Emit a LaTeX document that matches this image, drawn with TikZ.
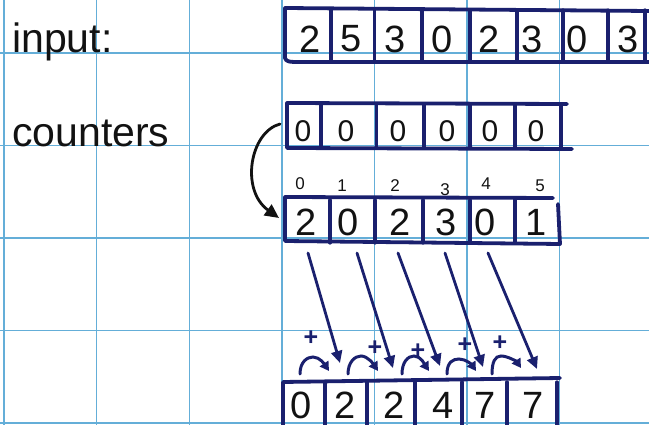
\documentclass[tikz,border=0pt]{standalone}
\usepackage{fontspec}
\setmainfont{Liberation Sans}
\usetikzlibrary{arrows.meta}
\definecolor{ink}{RGB}{26,32,110}
\definecolor{gridblue}{RGB}{100,174,216}
\definecolor{pen}{RGB}{18,18,18}
\begin{document}
\begin{tikzpicture}[x=1pt,y=-1pt,
  gridline/.style={draw=gridblue,line width=1.4pt},
  box/.style={draw=ink,line width=3.8pt,line cap=round,line join=round},
  cell/.style={draw=ink,line width=3.2pt,line cap=round},
  dig/.style={font=\fontsize{38}{38}\selectfont,text=pen,inner sep=0pt,anchor=center},
  zero/.style={font=\fontsize{30}{30}\selectfont,text=pen,inner sep=0pt,anchor=center},
  idx/.style={font=\fontsize{17}{17}\selectfont,text=pen,inner sep=0pt,anchor=center},
  word/.style={font=\fontsize{41}{41}\selectfont,text=pen,inner sep=0pt,anchor=base west},
  plus/.style={font=\bfseries\fontsize{25}{25}\selectfont,text=ink,inner sep=0pt,anchor=center},
  longarrow/.style={draw=ink,line width=2.8pt,line cap=round,-{Triangle[length=12pt,width=11pt]}},
  hoparrow/.style={draw=ink,line width=3pt,line cap=round,-{Triangle[length=9pt,width=10pt]}},
  curvearrow/.style={draw=pen,line width=2.8pt,line cap=round,-{Triangle[length=14pt,width=13pt]}}
]
\useasboundingbox (0,0) rectangle (649,425);
\fill[white] (0,0) rectangle (649,425);
% grid paper
\foreach \gx in {4,96.6,189.2,281.8,374.4,467,559.6}
  \draw[gridline] (\gx,0) -- (\gx,425);
\foreach \gy in {53,145.5,238,330.5,423}
  \draw[gridline] (0,\gy) -- (649,\gy);

% labels
\node[word] (lin) at (12,53) {input:};
\node[word] (lcnt) at (12,147) {counters};

% input array
\draw[box] (649,11) -- (285,8) -- (285,58) .. controls (286,62) and (290,62) .. (300,62) -- (649,62);
\foreach \dx in {331,374.6,422,470,517,563,608,645}
  \draw[cell] (\dx,10) -- (\dx,61);
\foreach \v/\px [count=\i] in {2/310,5/351,3/395,0/442,2/489,3/532,0/577,3/628}
  \node[dig] (in\i) at (\px,39) {\v};

% counters array (zeros)
\draw[box] (567,104) -- (287,103) -- (287,148) -- (572,149);
\foreach \dx in {321,376.6,424,470,515,561}
  \draw[cell] (\dx,105) -- (\dx,148);
\foreach \px [count=\i] in {303,346,398,447,490,536}
  \node[zero] (cz\i) at (\px,131) {0};

% index labels
\foreach \v/\px/\py [count=\i] in {0/300/184,1/342/186,2/395/186,3/445/190,4/486/184,5/540/186}
  \node[idx] (ix\i) at (\px,\py) {\v};

% counts array
\draw[box] (553,198) -- (285,197) -- (285,241) -- (560,244) -- (558,204);
\foreach \dx in {330,375,423,470,515}
  \draw[cell] (\dx,200) -- (\dx,243);
\foreach \v/\px [count=\i] in {2/306,0/348,2/400,3/446,0/485,1/536}
  \node[dig] (cc\i) at (\px,222) {\v};

% output array
\draw[box] (283,425) -- (283,382) -- (560,378);
\foreach \dx in {325,367,415,462,507,557}
  \draw[cell] (\dx,382) -- (\dx,425);
\foreach \v/\px [count=\i] in {0/301,2/345,2/394,4/443,7/485,7/533}
  \node[dig] (out\i) at (\px,405) {\v};

% curved black arrow from counters to counts
\coordinate (bs) at (280,124);
\coordinate (be) at (279,218);
\draw[curvearrow] (bs) .. controls (250,132) and (240,190) .. (be);

% long arrows from counts to output
\foreach \sx/\sy/\ex/\ey [count=\i] in {308/253/340/363,357/253/393/368,398/253/440/366,445/253/483/367,488/253/537/369}{
  \coordinate (ls\i) at (\sx,\sy);
  \coordinate (le\i) at (\ex,\ey);
  \draw[longarrow] (ls\i) -- (le\i);
}

% hop arrows with plus signs
\foreach \sx/\pkx/\pky/\ex/\ey/\qx/\qy [count=\i] in
  {300/313/357/329/371/311/338,
   348/361/356/378/371/375/348,
   402/414/356/429/371/418/351,
   447/459/359/476/371/465/345,
   492/501/356/521/368/500/343}{
  \coordinate (hs\i) at (\sx,374);
  \coordinate (hp\i) at (\pkx,\pky);
  \coordinate (he\i) at (\ex,\ey);
  \draw[hoparrow] (hs\i) .. controls +(0,-12) and +(-6,0) .. (hp\i) .. controls +(7,0) and +(-4,-6) .. (he\i);
  \node[plus] (pl\i) at (\qx,\qy) {+};
}
\end{tikzpicture}
\end{document}
